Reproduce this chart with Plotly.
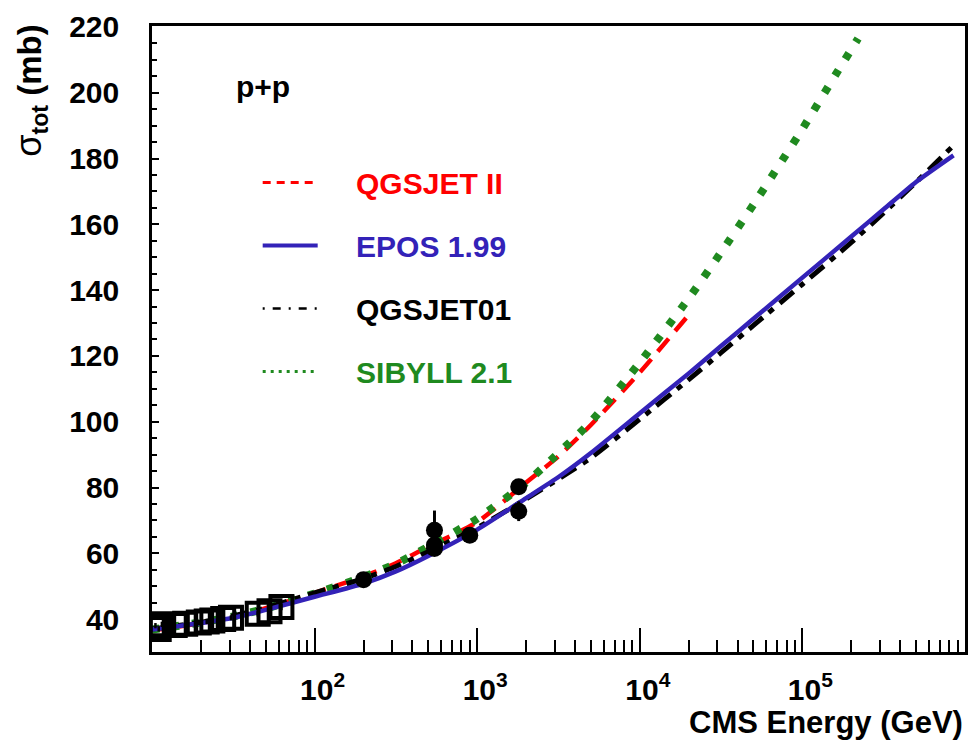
import plotly.graph_objects as go

# ---------------- data ----------------
# model curves: CMS energy (GeV) and sigma_tot (mb)
qgsjet2_E = [10, 20, 31.6, 50, 100, 200, 316, 500, 1000, 2000, 3162, 5000, 10000, 20000]
qgsjet2_s = [36.5, 38.8, 40.8, 43.3, 48.0, 53.0, 57.0, 62.0, 69.5, 81.5, 89.5, 99.0, 115.0, 132.5]

epos_E = [10, 20, 31.6, 50, 100, 200, 316, 500, 1000, 2000, 3162, 5000, 10000, 20000,
          31600, 50000, 100000, 200000, 316000, 500000, 850000]
epos_s = [36.8, 38.8, 40.4, 42.8, 46.8, 50.8, 54.5, 59.2, 67.2, 76.8, 83.2, 90.5, 102.6, 114.7,
          123.0, 131.3, 143.8, 156.3, 164.6, 172.9, 181.0]

qgsjet01_E = [10, 20, 31.6, 50, 100, 200, 316, 500, 1000, 2000, 3162, 5000, 10000, 20000,
              31600, 50000, 100000, 200000, 316000, 500000, 850000]
qgsjet01_s = [37.0, 39.0, 41.0, 43.4, 48.0, 52.3, 56.0, 60.5, 67.8, 76.5, 82.6, 89.0, 100.8, 112.8,
              121.0, 129.3, 141.8, 154.5, 163.5, 172.8, 184.0]

sibyll_E = [10, 20, 31.6, 50, 100, 200, 316, 500, 1000, 2000, 3162, 5000, 10000, 20000,
            31600, 50000, 100000, 160000, 220000]
sibyll_s = [36.8, 39.0, 40.8, 43.2, 47.8, 52.8, 56.8, 62.0, 70.5, 81.5, 90.5, 100.0, 118.0, 137.5,
            151.5, 166.0, 189.0, 205.5, 216.5]

# measurements: open squares (lower energies) and filled circles (collider)
sq_E = [10.5, 11.0, 11.5, 13.8, 16.0, 19.4, 21.7, 23.5, 27.4, 30.6, 44.7, 52.8, 62.5]
sq_s = [38.0, 37.0, 38.4, 38.2, 38.6, 39.0, 39.3, 39.6, 40.0, 40.4, 41.6, 42.4, 43.7]
sq_err = [0.8, 0.8, 0.8, 0.8, 0.8, 0.8, 0.8, 0.8, 0.8, 0.8, 0.8, 0.8, 1.0]

pt_E = [200, 546, 546, 546, 900, 1800, 1800]
pt_s = [52.0, 61.5, 62.5, 67.0, 65.5, 80.2, 72.8]
pt_err = [1.0, 1.0, 1.5, 6.0, 1.5, 2.2, 3.0]

x_tickvals = [100, 1000, 10000, 100000]
x_ticktext = ["10<sup>2</sup>", "10<sup>3</sup>", "10<sup>4</sup>", "10<sup>5</sup>"]
x_minor = [m * 10 ** k for k in range(1, 6) for m in range(2, 10)]

labels = ["QGSJET II", "EPOS 1.99", "QGSJET01", "SIBYLL 2.1"]

# ---------------- styles ----------------
RED = "#ff0000"
BLUE = "#3322b8"
BLACK = "#000000"
GREEN = "#1f8a1f"
FONT = "Liberation Sans, Arial, Helvetica, sans-serif"

fig = go.Figure()

# model curves (legend keys drawn by thin empty traces below)
fig.add_trace(go.Scatter(x=qgsjet2_E, y=qgsjet2_s, mode="lines", showlegend=False,
                         line=dict(color=RED, width=4.5, dash="17px,10px", shape="spline", smoothing=0.6)))
fig.add_trace(go.Scatter(x=sibyll_E, y=sibyll_s, mode="lines", showlegend=False,
                         line=dict(color=GREEN, width=8, dash="7px,13px", shape="spline", smoothing=0.6)))
fig.add_trace(go.Scatter(x=qgsjet01_E, y=qgsjet01_s, mode="lines", showlegend=False,
                         line=dict(color=BLACK, width=5, dash="18px,8px,6px,8px", shape="spline", smoothing=0.6)))
fig.add_trace(go.Scatter(x=epos_E, y=epos_s, mode="lines", showlegend=False,
                         line=dict(color=BLUE, width=4.5, shape="spline", smoothing=0.6)))

# data points
fig.add_trace(go.Scatter(x=sq_E, y=sq_s, mode="markers", showlegend=False,
                         marker=dict(symbol="square-open", size=22, color=BLACK, line=dict(width=4, color=BLACK)),
                         error_y=dict(type="data", array=sq_err, color=BLACK, thickness=2.5, width=0)))
fig.add_trace(go.Scatter(x=pt_E, y=pt_s, mode="markers", showlegend=False,
                         marker=dict(symbol="circle", size=17, color=BLACK),
                         error_y=dict(type="data", array=pt_err, color=BLACK, thickness=3, width=0)))

# legend keys
legend_styles = [
    (RED, 3, "8px,6px"),
    (BLUE, 4, "solid"),
    (BLACK, 2.5, "2px,8px,8px,8px"),
    (GREEN, 3, "3px,5px"),
]
pad = "\u00a0" * 4
for i, (lab, (col, w, dsh)) in enumerate(zip(labels, legend_styles)):
    fig.add_trace(go.Scatter(x=[None], y=[None], mode="lines", legendgroup=str(i),
                             name=f"{pad}<span style='color:{col}'>{lab}</span>",
                             line=dict(color=col, width=w, dash=dsh)))

fig.add_annotation(text="<b>p+p</b>", xref="paper", yref="paper", x=0.101, y=0.9026,
                   xanchor="left", yanchor="middle", showarrow=False,
                   font=dict(family=FONT, size=30, color="black"))

fig.add_annotation(text="<b>CMS Energy (GeV)</b>", xref="paper", yref="paper", x=1.0, y=-0.113,
                   xanchor="right", yanchor="middle", showarrow=False,
                   font=dict(family=FONT, size=31, color="black"))

fig.add_annotation(text="<span style='font-size:36px'>σ</span><b><sub>tot</sub> (mb)</b>",
                   xref="paper", yref="paper", x=-0.1495, y=1.006,
                   xanchor="center", yanchor="top", textangle=-90, showarrow=False,
                   font=dict(family=FONT, size=33, color="black"))

fig.update_layout(
    width=976, height=747,
    margin=dict(l=152, r=8, t=26, b=95),
    paper_bgcolor="white", plot_bgcolor="white",
    font=dict(family=FONT, color="black"),
    legend=dict(x=0.130, y=0.7914, xanchor="left", yanchor="top",
                bgcolor="rgba(0,0,0,0)", borderwidth=0, itemwidth=55,
                tracegroupgap=21, font=dict(family=FONT, size=30, weight="bold")),
    xaxis=dict(type="log", range=[1, 6], showgrid=False, zeroline=False,
               showline=True, linecolor="black", linewidth=2.5, mirror=True,
               tickmode="array", tickvals=x_tickvals, ticktext=x_ticktext,
               ticks="inside", ticklen=24, tickwidth=1.5, tickcolor="black",
               tickfont=dict(family=FONT, size=30, weight="bold", color="black"),
               ticklabelstandoff=9, ticklabelshift=8,
               minor=dict(tickmode="array", tickvals=x_minor, ticks="inside",
                          ticklen=12, tickwidth=1.5, tickcolor="black", showgrid=False)),
    yaxis=dict(range=[30, 220.3], showgrid=False, zeroline=False,
               showline=True, linecolor="black", linewidth=2.5, mirror=True,
               tickmode="linear", tick0=0, dtick=20,
               ticks="inside", ticklen=7, tickwidth=1.5, tickcolor="black",
               tickfont=dict(family=FONT, size=30, weight="bold", color="black"),
               ticklabelstandoff=24,
               minor=dict(dtick=5, ticks="inside", ticklen=5, tickwidth=1.5,
                          tickcolor="black", showgrid=False)),
)

fig.write_html("out.html")
